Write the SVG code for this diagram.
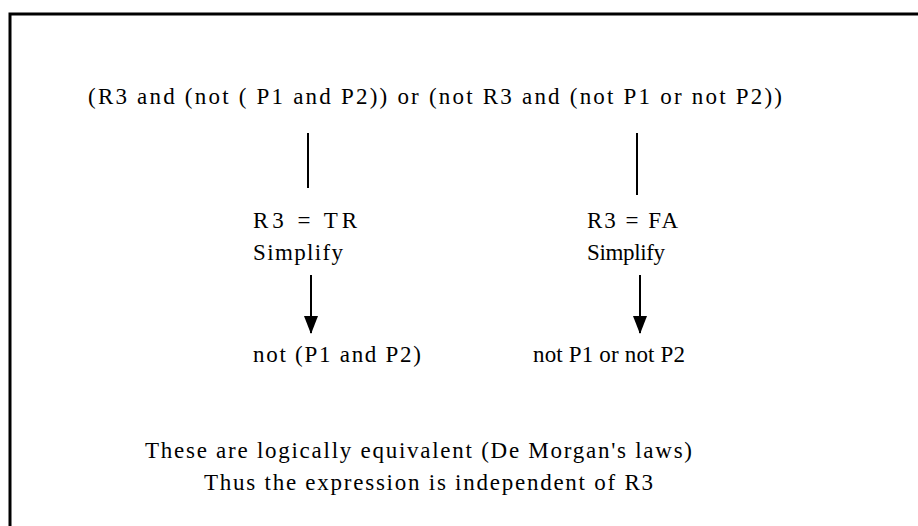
<svg xmlns="http://www.w3.org/2000/svg" width="918" height="526" viewBox="0 0 918 526">
<defs>
<style>
text{font-family:"Liberation Serif","Times New Roman",serif;font-size:23px;fill:#000}
.ln{stroke:#000;stroke-width:2;fill:none}
.frame{stroke:#000;stroke-width:3;fill:none}
</style>
<marker id="ah" markerUnits="userSpaceOnUse" markerWidth="18" markerHeight="14" viewBox="0 0 18 14" refX="17" refY="7" orient="auto">
<path d="M0,0 L18,7 L0,14 Z" fill="#000"/>
</marker>
</defs>
<rect width="918" height="526" fill="#fff"/>
<polyline class="frame" points="10,526 10,14 918,14"/>
<g id="expr"><text x="88" y="104" textLength="694" lengthAdjust="spacing">(R3 and (not ( P1 and P2)) or (not R3 and (not P1 or not P2))</text></g>
<g id="true-case"><text x="253" y="228" textLength="104" lengthAdjust="spacing">R3 = TR</text><text x="253" y="260" textLength="90" lengthAdjust="spacing">Simplify</text></g>
<g id="false-case"><text x="587" y="228" textLength="91" lengthAdjust="spacing">R3 = FA</text><text x="587" y="260" textLength="78" lengthAdjust="spacing">Simplify</text></g>
<g id="true-result"><text x="253" y="362" textLength="168" lengthAdjust="spacing">not (P1 and P2)</text></g>
<g id="false-result"><text x="533" y="362" textLength="152" lengthAdjust="spacing">not P1 or not P2</text></g>
<g id="connectors">
<line class="ln" x1="308" y1="133" x2="308" y2="188"/>
<line class="ln" x1="637" y1="133" x2="637" y2="195"/>
<line class="ln" x1="311" y1="275" x2="311" y2="333" marker-end="url(#ah)"/>
<line class="ln" x1="640" y1="275" x2="640" y2="333" marker-end="url(#ah)"/>
</g>
<g id="note"><text x="145" y="458" textLength="547" lengthAdjust="spacing">These are logically equivalent (De Morgan's laws)</text><text x="204" y="490" textLength="449" lengthAdjust="spacing">Thus the expression is independent of R3</text></g>
</svg>
